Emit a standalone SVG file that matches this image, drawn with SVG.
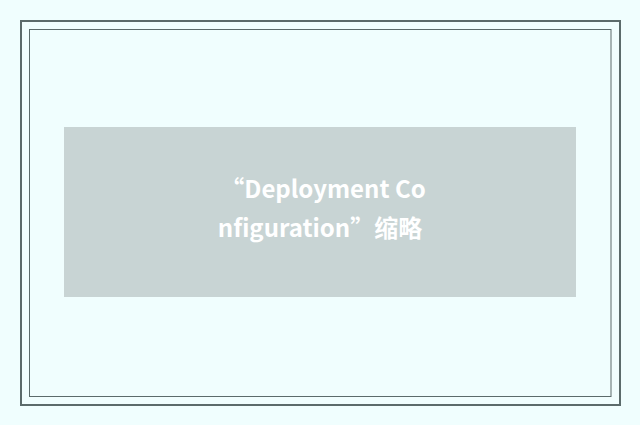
<svg xmlns="http://www.w3.org/2000/svg" width="640" height="425" viewBox="0 0 640 425">
<style>
.frame{fill:none;stroke:#5b6b6b}
.label{font-family:"Noto Sans CJK SC","Noto Sans",sans-serif;font-weight:bold;font-size:24px;fill:#ffffff;text-anchor:middle}
</style>
<rect x="0" y="0" width="640" height="425" fill="#f0fefe"/>
<rect class="frame" x="21" y="21" width="599" height="384" stroke-width="2"/>
<rect class="frame" x="29.5" y="29.5" width="581.5" height="367" stroke-width="1"/>
<g id="placeholder">
<rect x="64" y="127" width="512" height="170" fill="#c8d4d4"/>
<text class="label" x="323" y="198">“Deployment Co</text>
<text class="label" x="320" y="237">nfiguration”缩略</text>
</g>
<g id="connectors"/>
</svg>
